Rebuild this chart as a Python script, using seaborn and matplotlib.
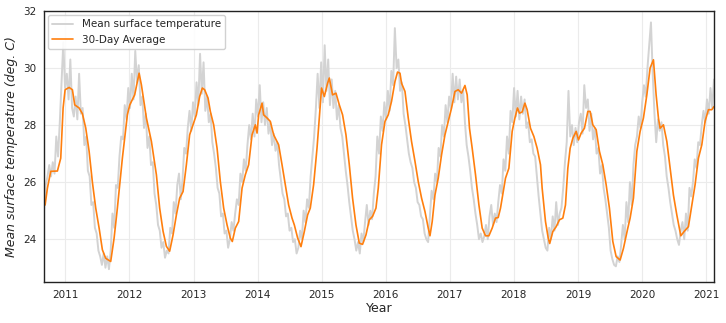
import numpy as np
import pandas as pd
import matplotlib
matplotlib.use("Agg")
import matplotlib.pyplot as plt
import seaborn as sns

# ---------------- data ----------------
# raw series sampled every 10 days starting 2010-09-01 (deg. C)
gray_start = "2010-09-01"
gray_values = [
    25.0, 25.9, 26.2, 26.6, 26.2, 26.7, 26.3, 27.6, 26.9, 28.1, 29.5, 30.9, 29.3,
    29.8, 28.9, 30.3, 28.6, 28.3, 29.0, 28.2, 29.8, 28.4, 28.6,
    27.3, 27.6, 26.4, 26.2, 25.2, 25.3, 24.4, 24.2, 23.6, 23.4, 23.1, 23.5, 23.0,
    23.4, 22.95, 23.6, 24.9, 24.4, 25.9, 25.8, 26.9, 27.6, 27.5, 28.7, 28.2, 29.3,
    28.6, 29.8, 28.9, 30.6, 29.5, 30.1, 28.7, 29.0, 27.9, 28.4, 27.2, 27.6, 26.6,
    26.7, 25.6, 25.2, 24.5, 24.3, 23.7, 23.9, 23.35, 23.6, 23.5, 24.4, 24.2, 25.3,
    24.9, 25.9, 26.3, 25.4, 26.1, 27.2, 27.0, 27.9, 28.5, 27.8, 28.8, 28.3, 29.5,
    28.7, 30.5, 29.1, 30.2, 28.5,
    29.0, 28.1, 28.4, 27.4, 27.0, 26.5, 25.8, 25.6, 24.8, 24.9, 24.2, 24.3, 23.7,
    24.0, 24.6, 24.3, 24.9, 25.4, 25.2, 26.3, 26.0, 26.8, 26.4, 27.3, 28.0, 27.5,
    28.4, 27.6, 28.9, 28.3, 29.4, 28.1, 28.8, 28.0, 28.6, 27.7,
    28.1, 27.3, 27.7, 27.1, 27.4, 26.6, 26.1, 25.6, 25.4, 24.8, 24.9, 24.3, 24.4,
    23.9, 24.0, 23.5, 23.7, 24.3, 24.0, 25.0, 24.6, 25.4, 25.1, 26.2, 26.9, 27.6,
    28.6, 29.8, 28.6, 30.2, 28.8, 30.8, 29.2, 30.3, 28.7, 29.6, 28.6,
    29.2, 28.2, 28.7, 27.9, 27.6, 27.0, 26.4, 25.9, 25.3, 24.8, 24.3, 24.0, 23.6,
    23.9, 23.5, 24.2, 23.9, 24.6, 25.2, 24.5, 25.0, 24.7, 25.6, 26.2, 27.6, 27.0,
    28.3, 27.8, 28.8, 28.2, 29.2, 28.5, 29.9, 29.4, 31.4, 30.0, 30.3,
    29.2, 29.5, 28.4, 28.0, 27.5, 27.0, 26.7, 26.5, 26.0, 25.8, 25.3, 25.2, 24.8,
    24.7, 24.2, 24.0, 23.9, 24.8, 25.7, 25.4, 26.3, 26.0, 27.2, 26.9, 28.0, 27.6,
    28.7, 28.1, 29.0, 28.6, 29.8, 28.8, 29.7, 28.9, 29.6, 28.8, 29.2,
    28.1, 27.3, 26.9, 26.4, 25.8, 25.4, 24.9, 24.5, 24.0, 24.2, 23.9, 24.1, 24.5,
    24.0, 24.8, 25.2, 24.5, 24.9, 24.6, 25.3, 25.9, 25.6, 26.8, 26.4, 27.6, 27.0,
    28.5, 28.1, 29.3, 28.3, 29.2, 28.2, 29.0, 28.4, 28.9,
    27.9, 28.1, 27.4, 27.5, 27.0, 26.9, 26.2, 25.5, 24.9, 24.3, 24.0, 23.7, 23.6,
    24.4, 24.0, 24.8, 24.3, 25.3, 24.5, 24.9, 25.1, 25.8, 26.7, 27.4, 29.2, 27.6,
    28.0, 27.3, 27.9, 27.4, 28.1, 28.4, 27.7, 29.4, 28.6, 28.9,
    27.8, 28.4, 27.5, 27.9, 27.0, 27.2, 26.3, 26.6, 25.8, 25.4, 24.9, 24.4, 23.6,
    23.3, 23.1, 23.05, 23.4, 23.2, 23.8, 24.5, 24.0, 25.3, 24.6, 26.0, 25.2, 26.6,
    27.3, 27.6, 28.3, 27.9, 28.8, 29.4, 29.0, 30.0, 30.8, 31.6, 29.8, 28.4, 27.4,
    28.2, 27.8, 28.1, 27.3, 26.9, 26.2, 25.8, 25.3, 24.9, 24.5, 24.3, 24.0, 23.8,
    24.3, 24.6, 24.0, 24.9, 24.3, 25.8, 25.5, 26.0, 26.8, 26.5, 27.4, 27.3, 28.0,
    28.5, 28.1, 28.9, 28.4, 29.3, 28.6, 29.6,
]

avg_years = [
    2010.683, 2010.719, 2010.771, 2010.875, 2010.927, 2010.964, 2010.995, 2011.058,
    2011.109, 2011.145, 2011.214, 2011.265, 2011.317, 2011.370, 2011.421, 2011.473,
    2011.526, 2011.577, 2011.629, 2011.707, 2011.760, 2011.811, 2011.889, 2011.967,
    2012.003, 2012.081, 2012.150, 2012.186, 2012.264, 2012.342, 2012.420, 2012.471,
    2012.524, 2012.576, 2012.627, 2012.680, 2012.732, 2012.783, 2012.836, 2012.888,
    2012.939, 2012.992, 2013.044, 2013.095, 2013.137, 2013.173, 2013.226, 2013.262,
    2013.314, 2013.367, 2013.418, 2013.470, 2013.523, 2013.574, 2013.605, 2013.652,
    2013.704, 2013.757, 2013.808, 2013.860, 2013.913, 2013.964, 2013.991, 2014.016,
    2014.069, 2014.094, 2014.147, 2014.198, 2014.250, 2014.328, 2014.381, 2014.432,
    2014.484, 2014.537, 2014.573, 2014.625, 2014.677, 2014.729, 2014.780, 2014.822,
    2014.874, 2014.927, 2014.963, 2014.998, 2015.041, 2015.092, 2015.119, 2015.170,
    2015.223, 2015.275, 2015.326, 2015.379, 2015.431, 2015.482, 2015.535, 2015.587,
    2015.638, 2015.691, 2015.743, 2015.794, 2015.847, 2015.883, 2015.934, 2015.988,
    2016.039, 2016.090, 2016.144, 2016.184, 2016.222, 2016.246, 2016.300, 2016.351,
    2016.402, 2016.456, 2016.507, 2016.559, 2016.612, 2016.663, 2016.690, 2016.725,
    2016.768, 2016.819, 2016.871, 2016.924, 2016.975, 2017.027, 2017.080, 2017.131,
    2017.183, 2017.236, 2017.271, 2017.307, 2017.349, 2017.401, 2017.454, 2017.505,
    2017.557, 2017.610, 2017.661, 2017.713, 2017.755, 2017.791, 2017.844, 2017.869,
    2017.922, 2017.973, 2018.016, 2018.056, 2018.087, 2018.129, 2018.172, 2018.207,
    2018.259, 2018.312, 2018.363, 2018.415, 2018.441, 2018.493, 2018.535, 2018.559,
    2018.608, 2018.660, 2018.711, 2018.764, 2018.805, 2018.842, 2018.878, 2018.920,
    2018.972, 2019.008, 2019.050, 2019.101, 2019.154, 2019.190, 2019.232, 2019.284,
    2019.335, 2019.388, 2019.440, 2019.491, 2019.544, 2019.596, 2019.658, 2019.710,
    2019.778, 2019.814, 2019.866, 2019.919, 2019.970, 2020.022, 2020.075, 2020.126,
    2020.178, 2020.220, 2020.256, 2020.282, 2020.334, 2020.387, 2020.438, 2020.490,
    2020.543, 2020.605, 2020.657, 2020.724, 2020.777, 2020.828, 2020.880, 2020.933,
    2020.984, 2021.036, 2021.089, 2021.123,
]
avg_values = [
    25.20, 25.79, 26.38, 26.39, 26.84, 28.60, 29.24, 29.32,
    29.24, 28.71, 28.60, 28.40, 27.90, 27.08, 26.00, 25.09,
    24.39, 23.63, 23.33, 23.22, 24.04, 25.09, 26.84, 28.36,
    28.70, 29.06, 29.82, 29.41, 28.25, 27.43, 26.26, 25.09,
    24.28, 23.75, 23.58, 24.15, 24.85, 25.44, 25.67, 26.61,
    27.66, 28.01, 28.36, 29.00, 29.30, 29.24, 28.95, 28.48,
    28.01, 27.19, 26.02, 25.09, 24.50, 24.04, 23.92, 24.39,
    24.62, 25.79, 26.26, 26.61, 27.66, 28.01, 27.72, 28.36,
    28.77, 28.36, 28.25, 28.13, 27.66, 27.31, 26.61, 25.91,
    25.20, 24.74, 24.50, 24.04, 23.74, 24.27, 24.85, 25.09,
    25.91, 27.19, 28.25, 29.30, 29.00, 29.47, 29.65, 29.06,
    29.12, 28.71, 28.36, 27.66, 26.61, 25.44, 24.50, 23.86,
    23.82, 24.15, 24.68, 24.80, 25.09, 25.79, 27.31, 28.13,
    28.36, 28.83, 29.53, 29.86, 29.82, 29.47, 29.18, 28.25,
    27.43, 26.73, 26.02, 25.44, 24.97, 24.39, 24.12, 24.62,
    25.55, 26.14, 26.96, 27.66, 28.13, 28.60, 29.18, 29.24,
    29.12, 29.39, 29.06, 27.89, 27.19, 26.26, 25.20, 24.39,
    24.12, 24.12, 24.39, 24.74, 24.76, 25.09, 25.79, 26.14,
    26.49, 27.78, 28.25, 28.60, 28.42, 28.46, 28.77, 28.54,
    27.89, 27.60, 27.19, 26.61, 25.79, 24.62, 24.05, 23.85,
    24.27, 24.44, 24.68, 24.74, 25.20, 26.49, 27.19, 27.54,
    27.78, 27.48, 27.72, 27.89, 28.48, 28.48, 28.01, 27.84,
    27.08, 26.61, 25.91, 25.09, 23.92, 23.39, 23.27, 23.68,
    24.39, 24.74, 25.44, 27.08, 27.78, 28.25, 29.06, 30.00,
    30.29, 29.06, 28.25, 27.89, 28.01, 27.43, 26.49, 25.55,
    24.85, 24.12, 24.27, 24.44, 25.20, 25.91, 26.84, 27.31,
    28.13, 28.54, 28.54, 28.65,
]

year_ticks = [2011, 2012, 2013, 2014, 2015, 2016, 2017, 2018, 2019, 2020, 2021]
y_ticks = [24, 26, 28, 30, 32]

# ---------------- frames ----------------
dates = pd.date_range(gray_start, periods=len(gray_values), freq="10D")
gray_years = dates.year + (dates.dayofyear - 1) / np.where(dates.is_leap_year, 366.0, 365.0)
raw = pd.DataFrame({"year": gray_years, "temp": gray_values})
avg = pd.DataFrame({"year": avg_years, "temp": avg_values})

# ---------------- plot ----------------
sns.set_style("whitegrid")
plt.rcParams["font.family"] = ["DejaVu Sans"]

fig = plt.figure(figsize=(7.26, 3.23), dpi=100)
ax = fig.add_axes([44 / 726, 1 - 282 / 323, (714 - 44) / 726, (282 - 11) / 323])

sns.lineplot(data=raw, x="year", y="temp", ax=ax, color="lightgray", linewidth=1.4,
             label="Mean surface temperature", estimator=None)
sns.lineplot(data=avg, x="year", y="temp", ax=ax, color="#ff7f0e", linewidth=1.2,
             label="30-Day Average", estimator=None)

ax.set_xlim(raw["year"].min(), raw["year"].max())
ax.set_ylim(22.5, 32)
ax.set_xticks(year_ticks)
ax.set_xticklabels([str(y) for y in year_ticks])
ax.set_yticks(y_ticks)

ax.grid(True, color="#ebebeb", linewidth=0.8)
for s in ax.spines.values():
    s.set_color("#222222")
    s.set_linewidth(1.0)
ax.tick_params(axis="both", which="major", length=3.5, width=1.0, color="black",
               labelsize=7.5, pad=2)

ax.set_xlabel("Year", fontsize=9, labelpad=2)
ax.set_ylabel("Mean surface temperature (deg. C)", fontsize=9, style="italic", labelpad=4)

leg = ax.legend(loc="upper left", fontsize=7.5, frameon=True, borderaxespad=0.4,
                handlelength=2.0)
leg.get_frame().set_edgecolor("#cccccc")
leg.get_frame().set_alpha(0.9)

fig.savefig("out.png", dpi=100)
